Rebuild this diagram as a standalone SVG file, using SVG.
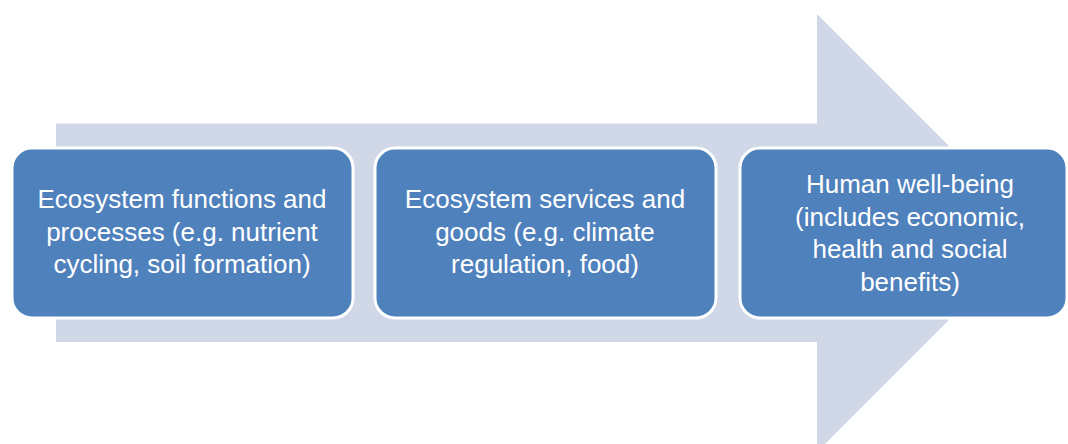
<svg xmlns="http://www.w3.org/2000/svg" width="1068" height="444" viewBox="0 0 1068 444">
  <style>
    .box { fill: #4F81BD; stroke: #FFFFFF; stroke-width: 3; }
    .lbl { fill: #FFFFFF; font-family: "Liberation Sans", Arial, sans-serif; font-size: 26px; text-anchor: middle; }
  </style>
  <rect width="1068" height="444" fill="#FFFFFF"/>
  <g id="connectors">
    <polygon id="big-arrow" points="56,123.5 817,123.5 817,14 1036,233 817,452 817,342 56,342" fill="#D0D8E8"/>
  </g>
  <g id="node1">
    <rect class="box" x="12" y="148" width="341" height="170" rx="20" ry="20"/>
    <text class="lbl" x="182" y="208">Ecosystem functions and</text>
    <text class="lbl" x="182" y="240.5">processes (e.g. nutrient</text>
    <text class="lbl" x="182" y="273">cycling, soil formation)</text>
  </g>
  <g id="node2">
    <rect class="box" x="375" y="148" width="341" height="170" rx="20" ry="20"/>
    <text class="lbl" x="545" y="208">Ecosystem services and</text>
    <text class="lbl" x="545" y="240.5">goods (e.g. climate</text>
    <text class="lbl" x="545" y="273">regulation, food)</text>
  </g>
  <g id="node3">
    <rect class="box" x="740" y="148" width="327" height="170" rx="20" ry="20"/>
    <text class="lbl" x="910" y="193">Human well-being</text>
    <text class="lbl" x="910" y="225.5">(includes economic,</text>
    <text class="lbl" x="910" y="258">health and social</text>
    <text class="lbl" x="910" y="290.5">benefits)</text>
  </g>
</svg>
